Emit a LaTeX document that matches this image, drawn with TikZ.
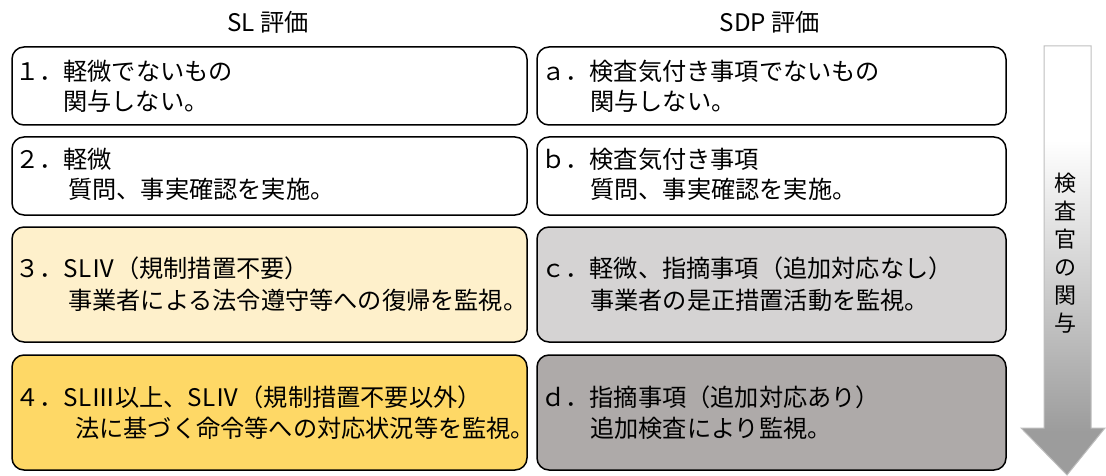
\documentclass[tikz,border=0pt]{standalone}
\usepackage{fontspec}
\newfontfamily\jp{Noto Sans CJK JP}
\usetikzlibrary{positioning}
\definecolor{creamA}{HTML}{FEF0CB}
\definecolor{goldA}{HTML}{FED866}
\definecolor{greyA}{HTML}{D5D3D3}
\definecolor{greyB}{HTML}{AEAAA9}
\definecolor{arrowgrey}{HTML}{9C9C9C}
\definecolor{arrowline}{HTML}{BEBEBE}
\pgfdeclareverticalshading{arrowshade}{100bp}{color(0bp)=(arrowgrey); color(30bp)=(arrowgrey); color(64bp)=(white); color(100bp)=(white)}
\begin{document}
\begin{tikzpicture}[x=1pt,y=-1pt,
  box/.style={draw=black, line width=1.5pt, rounded corners=12pt},
  txt/.style={font=\jp\fontsize{24.2}{24.2}\selectfont, anchor=base west, inner sep=0pt},
  ttl/.style={font=\jp\fontsize{24.2}{24.2}\selectfont, inner sep=0pt}]
\useasboundingbox (0,0) rectangle (1106,476);
% titles
\node[ttl] (t1) at (268,22) {SL 評価};
\node[ttl] (t2) at (770,22) {SDP 評価};
% left column boxes
\draw[box, fill=white] (12,47) rectangle (527,125);
\draw[box, fill=white] (12,137) rectangle (527,215);
\draw[box, fill=creamA] (12,227) rectangle (527,342);
\draw[box, fill=goldA] (12,355) rectangle (527,470);
% right column boxes
\draw[box, fill=white] (537,47) rectangle (1006,125);
\draw[box, fill=white] (537,137) rectangle (1006,215);
\draw[box, fill=greyA] (537,227) rectangle (1006,342);
\draw[box, fill=greyB] (537,355) rectangle (1006,470);
% left texts
\node[txt] (l1a) at (15,81) {１．軽微でないもの};
\node[txt] (l1b) at (63,111) {関与しない。};
\node[txt] (l2a) at (15,168) {２．軽微};
\node[txt] (l2b) at (68,198) {質問、事実確認を実施。};
\node[txt] (l3a) at (15,277) {３．SLⅣ（規制措置不要）};
\node[txt] (l3b) at (68,309) {事業者による法令遵守等への復帰を監視。};
\node[txt] (l4a) at (15,406) {４．SLⅢ以上、SLⅣ（規制措置不要以外）};
\node[txt] (l4b) at (75,437) {法に基づく命令等への対応状況等を監視。};
% right texts
\node[txt] (r1a) at (541,81) {ａ．検査気付き事項でないもの};
\node[txt] (r1b) at (590,111) {関与しない。};
\node[txt] (r2a) at (541,168) {ｂ．検査気付き事項};
\node[txt] (r2b) at (590,198) {質問、事実確認を実施。};
\node[txt] (r3a) at (541,277) {ｃ．軽微、指摘事項（追加対応なし）};
\node[txt] (r3b) at (590,309) {事業者の是正措置活動を監視。};
\node[txt] (r4a) at (541,406) {ｄ．指摘事項（追加対応あり）};
\node[txt] (r4b) at (590,437) {追加検査により監視。};
% arrow
\path[shading=arrowshade, draw=arrowline, line width=1pt]
  (1044,46) -- (1091,46) -- (1091,428) -- (1105,428) -- (1067,475) -- (1021,428) -- (1044,428) -- cycle;
\node[ttl, align=center, font=\jp\fontsize{22}{28}\selectfont] (arr) at (1065,253) {検\\査\\官\\の\\関\\与};
\end{tikzpicture}
\end{document}
